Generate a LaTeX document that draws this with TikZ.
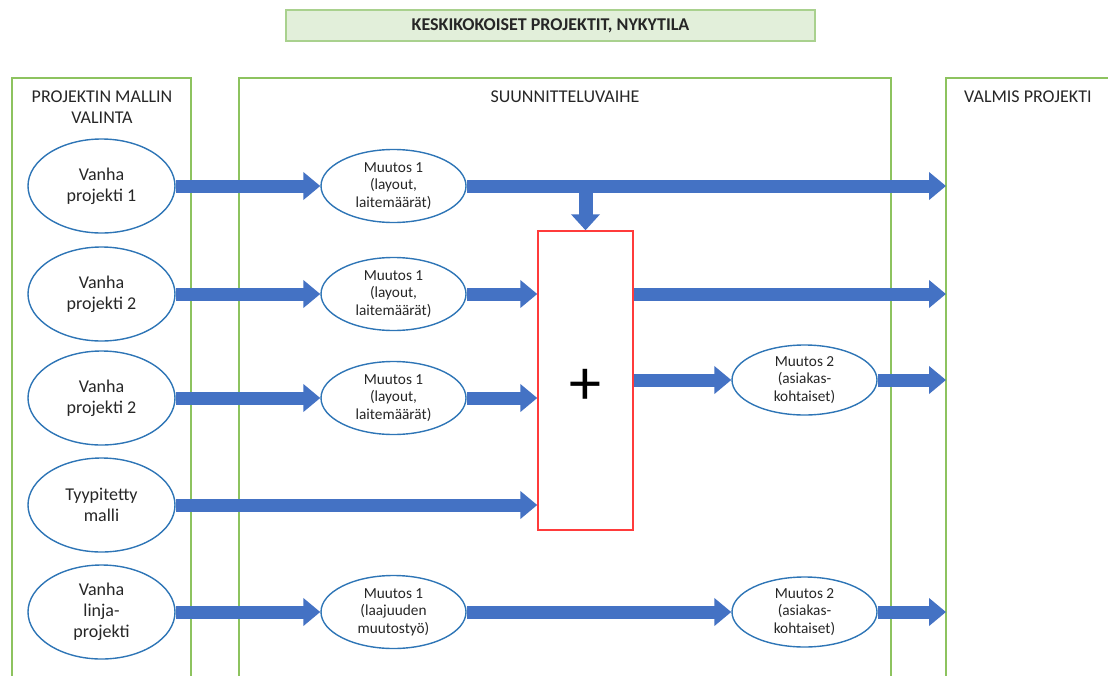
\documentclass[tikz,border=0pt]{standalone}
\usepackage{fontspec}
\setmainfont{Carlito}
\usetikzlibrary{shapes.geometric,arrows.meta}
\definecolor{panelgreen}{HTML}{8DC35F}
\definecolor{titlefill}{HTML}{E2EFDA}
\definecolor{titleedge}{HTML}{A9D18E}
\definecolor{ovalblue}{HTML}{2E75B6}
\definecolor{flowblue}{HTML}{4472C4}
\definecolor{textgray}{HTML}{262626}
\definecolor{boxred}{HTML}{FF3B3B}
\begin{document}
\begin{tikzpicture}[x=1pt,y=-1pt,
  panel/.style={draw=panelgreen,line width=1.4pt},
  header/.style={text=textgray,align=center,font=\fontsize{18}{21}\selectfont,inner sep=0pt},
  source/.style={ellipse,draw=ovalblue,line width=1.4pt,minimum width=147pt,minimum height=94pt,
    inner sep=0pt,align=center,text=textgray,font=\fontsize{18}{21}\selectfont},
  change/.style={ellipse,draw=ovalblue,line width=1.4pt,minimum width=145pt,minimum height=73pt,
    inner sep=0pt,align=center,text=textgray,font=\fontsize{15.3}{17.5}\selectfont},
  flow/.style={draw=flowblue,line width=13pt,
    -{Triangle[width=27pt,length=17pt]},shorten <=0pt},
]
\useasboundingbox (0,0) rectangle (1108,675);

% title bar
\node[draw=titleedge,fill=titlefill,line width=1.2pt,minimum width=529pt,minimum height=31pt,
  inner sep=0pt,font=\fontsize{18}{21}\selectfont\bfseries,text=textgray] (title) at (550.5,25.5)
  {KESKIKOKOISET PROJEKTIT, NYKYTILA};

% three phase panels (open towards the bottom edge)
\draw[panel] (12,690) -- (12,78) -- (191,78) -- (191,690);
\draw[panel] (239,690) -- (239,78) -- (891,78) -- (891,690);
\draw[panel] (946,690) -- (946,78) -- (1120,78);
\coordinate (done) at (946,78);

\node[header] (h1) at (102,107) {PROJEKTIN MALLIN\\VALINTA};
\node[header] (h2) at (565,97) {SUUNNITTELUVAIHE};
\node[header,anchor=west] (h3) at (964,97) {VALMIS PROJEKTI};

% project model sources
\node[source] (s1) at (101.5,186) {Vanha\\projekti 1};
\node[source] (s2) at (101.5,294) {Vanha\\projekti 2};
\node[source] (s3) at (101.5,398) {Vanha\\projekti 2};
\node[source] (s4) at (101.5,505) {Tyypitetty\\malli};
\node[source] (s5) at (101.5,612) {Vanha\\linja-\\projekti};

% first-stage changes
\node[change] (c1) at (393.5,186) {Muutos 1\\(layout,\\laitemäärät)};
\node[change] (c2) at (393.5,294) {Muutos 1\\(layout,\\laitemäärät)};
\node[change] (c3) at (393.5,398) {Muutos 1\\(layout,\\laitemäärät)};
\node[change] (c5) at (393.5,612) {Muutos 1\\(laajuuden\\muutostyö)};

% customer-specific changes
\node[change,minimum height=70pt] (d3) at (804.5,380) {Muutos 2\\(asiakas-\\kohtaiset)};
\node[change,minimum height=70pt] (d5) at (804.5,612) {Muutos 2\\(asiakas-\\kohtaiset)};

% combining step
\node[draw=boxred,line width=1.4pt,minimum width=95pt,minimum height=299pt,inner sep=0pt] (plus)
  at (585.5,380.5) {};
\node[font=\fontsize{64}{64}\selectfont,text=black,inner sep=0pt] (plussign) at (585.5,387) {+};

% flows
\draw[flow] (s1.east) -- (c1.west);
\draw[flow] (c1.east) -- (done |- c1.east);
\draw[draw=flowblue,line width=14pt,-{Triangle[width=28pt,length=16pt]}]
  (plus.north |- c1.east) -- (plus.north);

\draw[flow] (s2.east) -- (c2.west);
\draw[flow] (c2.east) -- (plus.west |- c2.east);
\draw[flow] (plus.east |- c2.east) -- (done |- c2.east);

\draw[flow] (s3.east) -- (c3.west);
\draw[flow] (c3.east) -- (plus.west |- c3.east);
\draw[flow] (plus.east |- d3.west) -- (d3.west);
\draw[flow] (d3.east) -- (done |- d3.east);

\draw[flow] (s4.east) -- (plus.west |- s4.east);

\draw[flow] (s5.east) -- (c5.west);
\draw[flow] (c5.east) -- (d5.west);
\draw[flow] (d5.east) -- (done |- d5.east);
\end{tikzpicture}
\end{document}
